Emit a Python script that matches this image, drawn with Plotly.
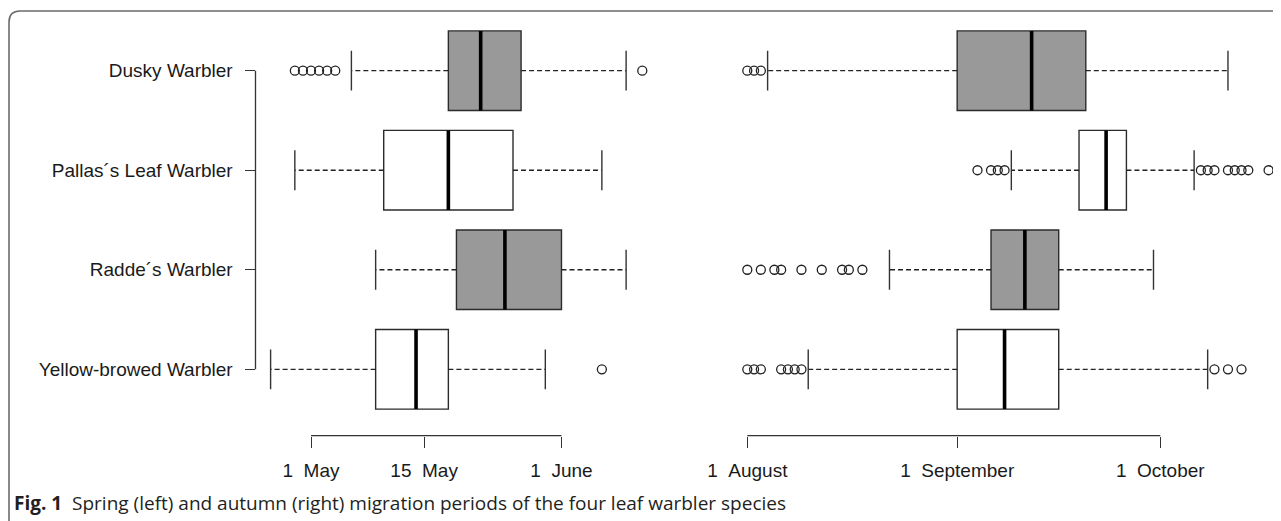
import plotly.graph_objects as go

# ---------------- data ----------------
species = ["Dusky Warbler", "Pallas´s Leaf Warbler", "Radde´s Warbler", "Yellow-browed Warbler"]
box_fill = ["#999999", "#ffffff", "#999999", "#ffffff"]

# Spring: days after 1 May
spring_lower = [5, -2, 8, -5]
spring_q1 = [17, 9, 18, 8]
spring_median = [21, 17, 24, 13]
spring_q3 = [26, 25, 31, 17]
spring_upper = [39, 36, 39, 29]
spring_outliers = [[-2, -1, 0, 1, 2, 3, 41], [], [], [36]]
spring_tickvals = [0, 14, 31]
spring_ticktext = ["1\u00a0\u00a0May", "15\u00a0\u00a0May", "1\u00a0\u00a0June"]

# Autumn: days after 1 August
autumn_lower = [3, 39, 21, 9]
autumn_q1 = [31, 49, 36, 31]
autumn_median = [42, 53, 41, 38]
autumn_q3 = [50, 56, 46, 46]
autumn_upper = [71, 66, 60, 68]
autumn_outliers = [[0, 1, 2],
                   [34, 36, 37, 38, 67, 68, 69, 71, 72, 73, 74, 77],
                   [0, 2, 4, 5, 8, 11, 14, 15, 17],
                   [0, 1, 2, 5, 6, 7, 8, 69, 71, 73]]
autumn_tickvals = [0, 31, 61]
autumn_ticktext = ["1\u00a0\u00a0August", "1\u00a0\u00a0September", "1\u00a0\u00a0October"]

caption_bold = "Fig. 1"
caption_text = "Spring (left) and autumn (right) migration periods of the four leaf warbler species"

# ---------------- layout geometry ----------------
W, H = 1281, 521
OFF = 8  # page body margin: figure origin sits 8 px right/down in the window
axis_left_px = 255.5 - OFF
axis_bottom_px = 435.7 - OFF
row_top_px, row_step_px = 70.7 - OFF, 99.53
spring_origin_px, spring_px_per_day = 311.0 - OFF, 8.08
autumn_origin_px, autumn_px_per_day = 747.3 - OFF, 6.77

x_dom0 = axis_left_px / W
spring_range = [(axis_left_px - spring_origin_px) / spring_px_per_day, (W - spring_origin_px) / spring_px_per_day]
autumn_range = [(axis_left_px - autumn_origin_px) / autumn_px_per_day, (W - autumn_origin_px) / autumn_px_per_day]
n = len(species)
top_pos = n - 1
y_range = [top_pos - (axis_bottom_px - row_top_px) / row_step_px, top_pos + row_top_px / row_step_px]
y_dom0 = 1 - axis_bottom_px / H

FONT = "Liberation Sans, Arial, sans-serif"
INK = "#1a1a1a"
BOXW = 0.8
STAPLE = 0.2

fig = go.Figure()


def add_panel(xa, lower, q1, med, q3, upper, outliers):
    wx, wy, sx, sy, mx, my, ox, oy = [], [], [], [], [], [], [], []
    for i, sp in enumerate(species):
        p = n - 1 - i
        fig.add_trace(go.Box(
            y=[p], q1=[q1[i]], median=[med[i]], q3=[q3[i]],
            lowerfence=[q1[i]], upperfence=[q3[i]],
            orientation="h", width=BOXW, fillcolor=box_fill[i],
            line=dict(color="#2b2b2b", width=1.4), whiskerwidth=0,
            boxpoints=False, xaxis=xa, yaxis="y", hoverinfo="skip", name=sp))
        wx += [q1[i], lower[i], None, q3[i], upper[i], None]
        wy += [p, p, None, p, p, None]
        sx += [lower[i], lower[i], None, upper[i], upper[i], None]
        sy += [p - STAPLE, p + STAPLE, None, p - STAPLE, p + STAPLE, None]
        mx += [med[i], med[i], None]
        my += [p - BOXW / 2, p + BOXW / 2, None]
        ox += outliers[i]
        oy += [p] * len(outliers[i])
    fig.add_trace(go.Scatter(x=mx, y=my, mode="lines", xaxis=xa, yaxis="y",
                             line=dict(color="#000000", width=3.6), hoverinfo="skip"))
    fig.add_trace(go.Scatter(x=wx, y=wy, mode="lines", xaxis=xa, yaxis="y",
                             line=dict(color="#222222", width=1.3, dash="5px,3px"), hoverinfo="skip"))
    fig.add_trace(go.Scatter(x=sx, y=sy, mode="lines", xaxis=xa, yaxis="y",
                             line=dict(color="#333333", width=1.4), hoverinfo="skip"))
    fig.add_trace(go.Scatter(x=ox, y=oy, mode="markers", xaxis=xa, yaxis="y",
                             marker=dict(symbol="circle-open", size=9, color="#222222",
                                         line=dict(width=1.3)), hoverinfo="skip"))


add_panel("x", spring_lower, spring_q1, spring_median, spring_q3, spring_upper, spring_outliers)
add_panel("x2", autumn_lower, autumn_q1, autumn_median, autumn_q3, autumn_upper, autumn_outliers)

axis_common = dict(showgrid=False, zeroline=False, showline=False, ticks="outside",
                   ticklen=11, tickwidth=1.3, tickcolor="#333333",
                   tickfont=dict(family=FONT, size=19, color=INK), fixedrange=True)

fig.update_layout(
    width=W, height=H,
    margin=dict(l=0, r=0, t=0, b=0, pad=0),
    paper_bgcolor="white", plot_bgcolor="white",
    showlegend=False,
    xaxis=dict(domain=[x_dom0, 1], range=spring_range, anchor="y",
               tickmode="array", tickvals=spring_tickvals, ticktext=spring_ticktext,
               ticklabelstandoff=6, **axis_common),
    xaxis2=dict(domain=[x_dom0, 1], range=autumn_range, anchor="y", overlaying="x", side="bottom",
                tickmode="array", tickvals=autumn_tickvals, ticktext=autumn_ticktext,
                ticklabelstandoff=6, **axis_common),
    yaxis=dict(domain=[y_dom0, 1], range=y_range, anchor="x",
               tickmode="array", tickvals=[n - 1 - i for i in range(n)], ticktext=species,
               ticklabelstandoff=8, **{**axis_common, "ticklen": 10}),
)

# bracket-style axis lines (first tick to last tick)
line_style = dict(color="#333333", width=1.3)
fig.add_shape(type="line", xref="x", yref="y domain", x0=spring_tickvals[0], x1=spring_tickvals[-1],
              y0=0, y1=0, line=line_style)
fig.add_shape(type="line", xref="x2", yref="y domain", x0=autumn_tickvals[0], x1=autumn_tickvals[-1],
              y0=0, y1=0, line=line_style)
fig.add_shape(type="line", xref="x domain", yref="y", x0=0, x1=0, y0=0, y1=n - 1, line=line_style)

# rounded figure frame (top-left corner visible)
fx, fy, r = 9.0 - OFF, 11.0 - OFF, 11.0
def px(x): return x / W
def py(y): return 1 - y / H
frame_path = (f"M {px(fx)},{py(H + 20)} L {px(fx)},{py(fy + r)} "
              f"Q {px(fx)},{py(fy)} {px(fx + r)},{py(fy)} L {px(W + 20)},{py(fy)}")
fig.add_shape(type="path", xref="paper", yref="paper", path=frame_path,
              line=dict(color="#6b6b6b", width=1.6))

# caption
fig.add_annotation(xref="paper", yref="paper", x=(12 - OFF) / W, y=1 - (503 - OFF) / H,
                   xanchor="left", yanchor="middle", showarrow=False,
                   text=f"<b>{caption_bold}</b>\u00a0\u00a0{caption_text}",
                   font=dict(family="Open Sans, Lato, sans-serif", size=19, color="#231f20"))

fig.write_html("out.html")
